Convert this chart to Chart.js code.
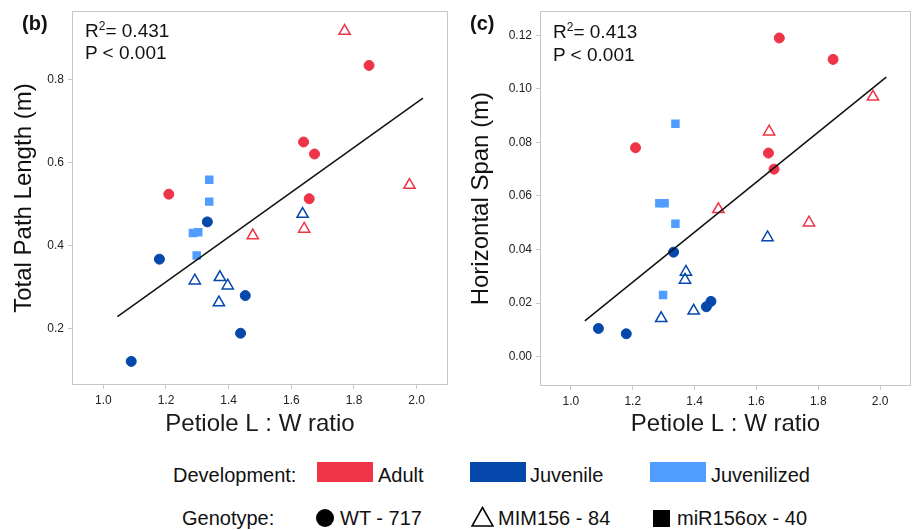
<!DOCTYPE html>
<html>
<head>
<meta charset="utf-8">
<script src="https://cdn.jsdelivr.net/npm/chart.js@4.4.1/dist/chart.umd.min.js"></script>
<style>
  body { margin: 0; background: #fff; font-family: "Liberation Sans", Arial, sans-serif; color: #111; }
  #wrap { position: relative; width: 919px; height: 530px; overflow: hidden; }
  canvas { position: absolute; top: 0; }
  .t { position: absolute; white-space: nowrap; line-height: 24px; }
  .lab { font-weight: bold; font-size: 20px; }
  .stat { font-size: 19px; }
  .stat sup { font-size: 12px; vertical-align: 7px; line-height: 0; }
  .lg { font-size: 20px; }
  .box { position: absolute; }
</style>
</head>
<body>
<div id="wrap">
  <canvas id="chartB" width="460" height="445" style="left:0"></canvas>
  <canvas id="chartC" width="459" height="445" style="left:460px"></canvas>

  <div class="t lab" style="left:22px; top:11px">(b)</div>
  <div class="t stat" style="left:85px; top:19px">R<sup>2</sup>= 0.431</div>
  <div class="t stat" style="left:85px; top:41px">P &lt; 0.001</div>

  <div class="t lab" style="left:470px; top:11px">(c)</div>
  <div class="t stat" style="left:553px; top:20px">R<sup>2</sup>= 0.413</div>
  <div class="t stat" style="left:553px; top:43px">P &lt; 0.001</div>

  <!-- legend -->
  <div class="t lg" style="left:173px; top:463px">Development:</div>
  <div class="box" style="left:317px; top:462px; width:56px; height:20px; background:rgb(238,52,70)"></div>
  <div class="t lg" style="left:378px; top:463px">Adult</div>
  <div class="box" style="left:470px; top:462px; width:56px; height:20px; background:rgb(4,72,172)"></div>
  <div class="t lg" style="left:530px; top:463px">Juvenile</div>
  <div class="box" style="left:650px; top:462px; width:56px; height:20px; background:rgb(80,156,255)"></div>
  <div class="t lg" style="left:711px; top:463px">Juvenilized</div>

  <div class="t lg" style="left:182px; top:506px">Genotype:</div>
  <div class="box" style="left:316px; top:509px; width:18px; height:18px; border-radius:50%; background:#000"></div>
  <div class="t lg" style="left:340px; top:506px">WT - 717</div>
  <svg class="box" style="left:471px; top:506px" width="23" height="21"><polygon points="11.5,1.5 22,20 1,20" fill="none" stroke="#000" stroke-width="1.6"/></svg>
  <div class="t lg" style="left:498px; top:506px">MIM156 - 84</div>
  <div class="box" style="left:653px; top:510px; width:17px; height:17px; background:#000"></div>
  <div class="t lg" style="left:677px; top:506px">miR156ox - 40</div>
</div>

<script>
// Petiole L : W ratio, by development stage and genotype
var xAdultWT  = [1.209, 1.639, 1.674, 1.657, 1.848];
var xAdultMIM = [1.770, 1.477, 1.641, 1.977];
var xJuvWT    = [1.332, 1.179, 1.453, 1.438, 1.089];
var xJuvMIM   = [1.636, 1.292, 1.372, 1.397, 1.369];
var xJzdOx    = [1.338, 1.338, 1.286, 1.303, 1.298];

// (b) Total Path Length (m)
var pathAdultWT  = [0.524, 0.650, 0.621, 0.513, 0.835];
var pathAdultMIM = [0.918, 0.424, 0.440, 0.546];
var pathJuvWT    = [0.457, 0.367, 0.279, 0.188, 0.120];
var pathJuvMIM   = [0.476, 0.315, 0.323, 0.303, 0.262];
var pathJzdOx    = [0.559, 0.506, 0.430, 0.432, 0.376];

// (c) Horizontal Span (m)
var spanAdultWT  = [0.078, 0.076, 0.119, 0.070, 0.111];
var spanAdultMIM = [0.050, 0.055, 0.084, 0.097];
var spanJuvWT    = [0.039, 0.0085, 0.0206, 0.0186, 0.0105];
var spanJuvMIM   = [0.0445, 0.0143, 0.0316, 0.0171, 0.0286];
var spanJzdOx    = [0.087, 0.0496, 0.0573, 0.0573, 0.023];

// regression line end points
var fitX    = [1.045, 2.02];
var fitPath = [0.228, 0.756];
var fitSpan = [0.0133, 0.1044];

// tick labels
var xTicks    = [1.0, 1.2, 1.4, 1.6, 1.8, 2.0];
var pathTicks = [0.2, 0.4, 0.6, 0.8];
var spanTicks = [0.00, 0.02, 0.04, 0.06, 0.08, 0.10, 0.12];

var RED = "rgb(238,52,70)", BLUE = "rgb(4,72,172)", LIGHT = "rgb(80,156,255)";
var FONT = '"Liberation Sans", Arial, sans-serif';

function pts(xs, ys) {
  var out = [];
  for (var i = 0; i < xs.length; i++) out.push({ x: xs[i], y: ys[i] });
  return out;
}

function circles(xs, ys, c) {
  return { data: pts(xs, ys), pointStyle: "circle", pointRadius: 5, backgroundColor: c, borderColor: c, borderWidth: 1 };
}
function triangles(xs, ys, c) {
  return { data: pts(xs, ys), pointStyle: "triangle", pointRadius: 6.5, backgroundColor: "rgba(255,255,255,0)", borderColor: c, borderWidth: 1.5 };
}
function squares(xs, ys, c) {
  return { data: pts(xs, ys), pointStyle: "rect", pointRadius: 6, backgroundColor: c, borderColor: c, borderWidth: 0 };
}

// grey frame round the plot area
var framePlugin = {
  id: "frame",
  afterDraw: function(chart) {
    var a = chart.chartArea, ctx = chart.ctx;
    ctx.save();
    ctx.strokeStyle = "#c6c6c6";
    ctx.lineWidth = 1;
    ctx.strokeRect(Math.round(a.left) + 0.5, Math.round(a.top) + 0.5, Math.round(a.right - a.left) - 1, Math.round(a.bottom - a.top) - 1);
    ctx.restore();
  }
};

function makeChart(id, sets, fitY, yTicks, yDec, yMin, yMax, yTitle, lay) {
  var datasets = [
    { type: "line", data: pts(fitX, fitY), borderColor: "#111", borderWidth: 1.5, pointRadius: 0, fill: false }
  ].concat(sets);

  return new Chart(document.getElementById(id), {
    type: "scatter",
    data: { datasets: datasets },
    options: {
      responsive: false,
      animation: false,
      layout: { padding: lay.padding },
      plugins: { legend: { display: false }, tooltip: { enabled: false } },
      scales: {
        x: {
          type: "linear", min: 0.9, max: 2.1,
          afterBuildTicks: function(s) { s.ticks = xTicks.map(function(v) { return { value: v }; }); },
          afterFit: function(s) { s.height = lay.xHeight; },
          ticks: { color: "#222", font: { family: FONT, size: 12 }, padding: 4, maxRotation: 0,
                   callback: function(v) { return Number(v).toFixed(1); } },
          grid: { drawOnChartArea: false, drawTicks: true, tickLength: 4, color: "#c6c6c6" },
          border: { display: false },
          title: { display: true, text: "Petiole L : W ratio", color: "#1a1a1a",
                   font: { family: FONT, size: 24 }, padding: { top: 0, bottom: 6 } }
        },
        y: {
          type: "linear", min: yMin, max: yMax,
          afterBuildTicks: function(s) { s.ticks = yTicks.map(function(v) { return { value: v }; }); },
          afterFit: function(s) { s.width = lay.yWidth; },
          ticks: { color: "#222", font: { family: FONT, size: 12 }, padding: 4,
                   callback: function(v) { return Number(v).toFixed(yDec); } },
          grid: { drawOnChartArea: false, drawTicks: true, tickLength: 4, color: "#c6c6c6" },
          border: { display: false },
          title: { display: true, text: yTitle, color: "#111",
                   font: { family: FONT, size: 24 }, padding: { top: lay.yTitlePad, bottom: 0 } }
        }
      }
    },
    plugins: [framePlugin]
  });
}

makeChart("chartB", [
  circles(xAdultWT, pathAdultWT, RED),
  triangles(xAdultMIM, pathAdultMIM, RED),
  circles(xJuvWT, pathJuvWT, BLUE),
  triangles(xJuvMIM, pathJuvMIM, BLUE),
  squares(xJzdOx, pathJzdOx, LIGHT)
], fitPath, pathTicks, 1, 0.063, 0.966, "Total Path Length (m)",
  { padding: { top: 9, right: 12, left: 0, bottom: 0 }, yWidth: 72, xHeight: 60, yTitlePad: 10 });

makeChart("chartC", [
  circles(xAdultWT, spanAdultWT, RED),
  triangles(xAdultMIM, spanAdultMIM, RED),
  circles(xJuvWT, spanJuvWT, BLUE),
  triangles(xJuvMIM, spanJuvMIM, BLUE),
  squares(xJzdOx, spanJzdOx, LIGHT)
], fitSpan, spanTicks, 2, -0.011, 0.129, "Horizontal Span (m)",
  { padding: { top: 10, right: 4, left: 0, bottom: 0 }, yWidth: 80, xHeight: 59, yTitlePad: 7 });
</script>
</body>
</html>
